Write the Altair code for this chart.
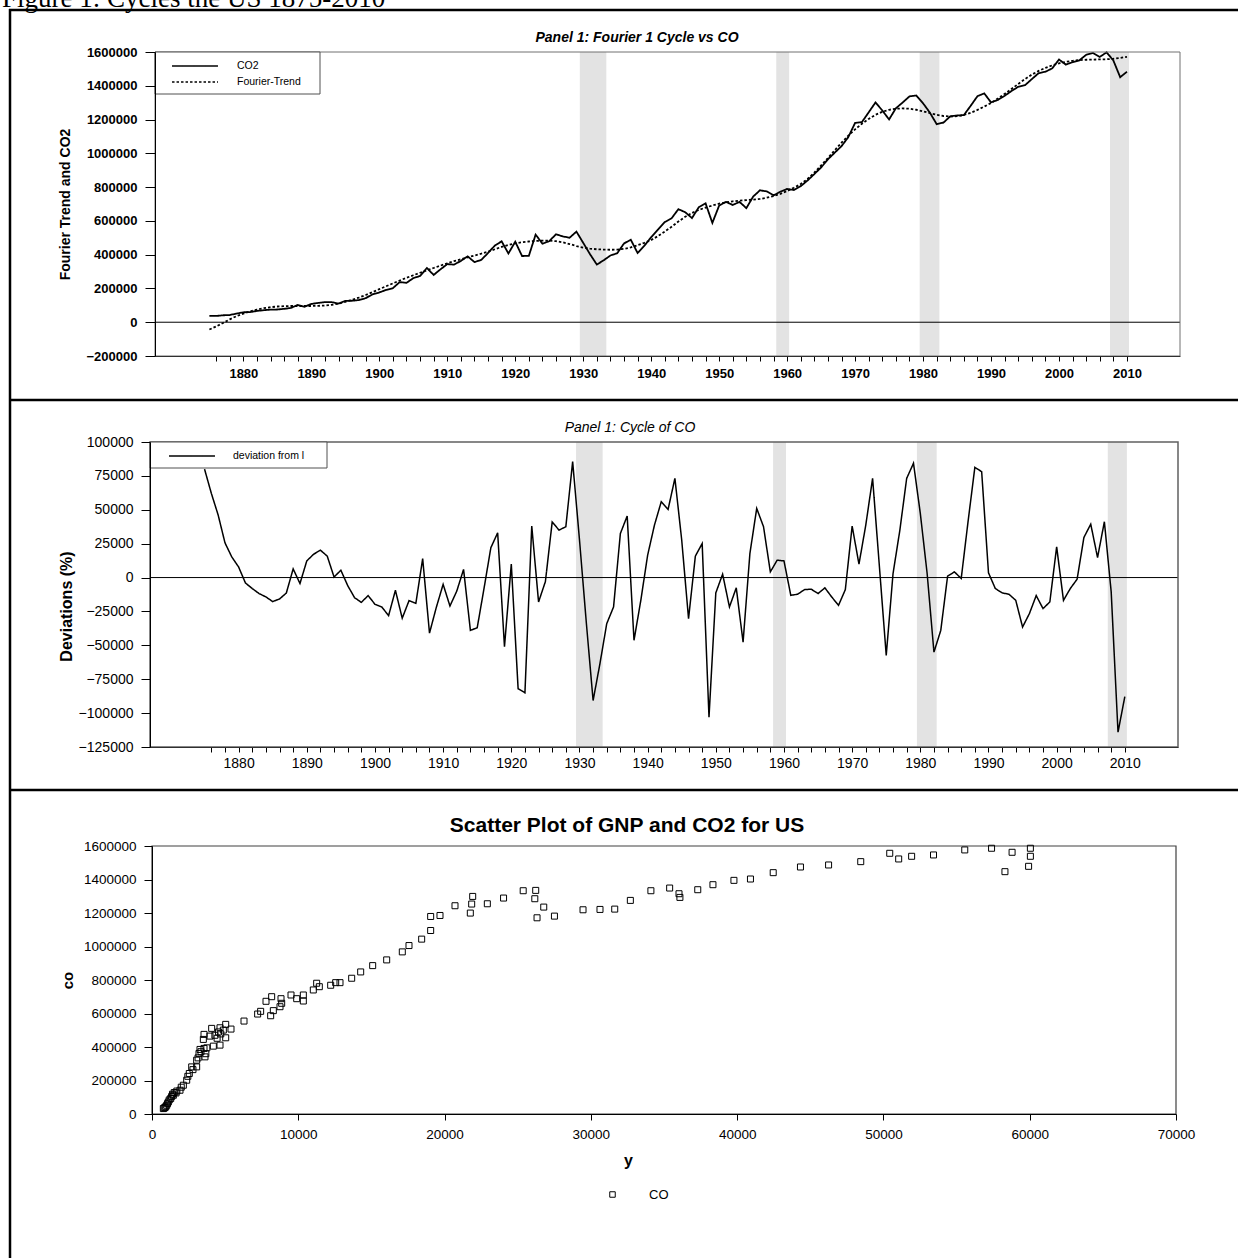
import altair as alt
import pandas as pd

# ---------------- data ----------------
years = list(range(1875, 2011))

co2 = [
    37000, 37100, 41100, 42600, 51200,
    58800, 60000, 66900, 71200, 74700, 75300, 79200, 84600, 102400, 91600,
    108300, 114200, 119200, 118800, 110400, 126400, 127100, 131200, 142700, 164700,
    176300, 191300, 201900, 237600, 233000, 261000, 274000, 321000, 280000, 313000,
    344000, 341000, 363000, 390000, 356000, 369000, 410000, 454000, 479000, 407000,
    477000, 392000, 393000, 519000, 465000, 480000, 521000, 508000, 500500, 536500,
    470000, 403000, 341300, 366400, 395000, 408300, 466500, 488400, 409700, 453200,
    503500, 548700, 593000, 615300, 669200, 651600, 616700, 680800, 704100, 588000,
    690700, 712500, 694300, 712400, 675400, 743700, 781000, 774500, 751200, 772800,
    789300, 782900, 805700, 839100, 877400, 916200, 964400, 1003700, 1042500, 1096100,
    1180000, 1184900, 1242700, 1301200, 1254000, 1200600, 1267000, 1301000, 1337200, 1342300,
    1296300, 1241000, 1173000, 1182000, 1219000, 1224200, 1226300, 1281200, 1338300, 1355100,
    1301500, 1315900, 1340700, 1368700, 1394200, 1403500, 1439400, 1474700, 1483100, 1503000,
    1555700, 1525200, 1539900, 1550800, 1583600, 1594400, 1570800, 1598200, 1549400, 1450900,
    1483200,
]

fourier_trend = [
    -43000, -25000, -5000, 17000, 36000,
    51000, 64000, 75000, 83000, 89000, 93000, 95000, 96000, 96000, 96000,
    96000, 97000, 99000, 103000, 110000, 121000, 133000, 146000, 161000, 178000,
    196000, 213000, 230000, 247000, 263000, 278000, 293000, 307000, 321000, 335000,
    349000, 362000, 373000, 384000, 395000, 406000, 418000, 432000, 446000, 458000,
    467000, 474000, 478000, 481000, 483000, 483000, 480000, 473000, 463000, 451000,
    442000, 436000, 432000, 430000, 429000, 430000, 434000, 443000, 456000, 470000,
    487000, 510000, 537000, 565000, 596000, 624000, 647000, 665000, 679000, 691000,
    702000, 710000, 716000, 720000, 723000, 726000, 730000, 737000, 747000, 760000,
    777000, 796000, 818000, 848000, 886000, 928000, 972000, 1018000, 1063000, 1105000,
    1142000, 1175000, 1204000, 1228000, 1246000, 1258000, 1264000, 1266000, 1264000, 1258000,
    1249000, 1238000, 1228000, 1221000, 1218000, 1220000, 1227000, 1240000, 1257000, 1277000,
    1298000, 1324000, 1352000, 1381000, 1411000, 1440000, 1466000, 1488000, 1506000, 1521000,
    1533000, 1542000, 1548000, 1552000, 1554000, 1555000, 1556000, 1557000, 1560000, 1565000,
    1571000,
]

deviation = [
    80000, 62100, 46100, 25600, 15200,
    7800, -4000, -8100, -11800, -14300, -17700, -15800, -11400, 6400, -4400,
    12300, 17200, 20200, 15800, 400, 5400, -5900, -14800, -18300, -13300,
    -19700, -21700, -28100, -9400, -30000, -17000, -19000, 14000, -41000, -22000,
    -5000, -21000, -10000, 6000, -39000, -37000, -8000, 22000, 33000, -51000,
    10000, -82000, -85000, 38000, -18000, -3000, 41000, 35000, 37500, 85500,
    28000, -33000, -90700, -63600, -34000, -21700, 32500, 45400, -46300, -16800,
    16500, 38700, 56000, 50300, 73200, 27600, -30300, 15800, 25100, -103000,
    -11300, 2500, -21700, -7600, -47600, 17700, 51000, 37500, 4200, 12800,
    12300, -13100, -12300, -8900, -8600, -11800, -7600, -14300, -20500, -8900,
    38000, 9900, 38700, 73200, 8000, -57400, 3000, 35000, 73200, 84300,
    47300, 3000, -55000, -39000, 1000, 4200, -700, 41200, 81300, 78100,
    3500, -8100, -11300, -12300, -16800, -36500, -26600, -13300, -22900, -18000,
    22700, -16800, -8100, -1200, 29600, 39400, 14800, 41200, -10600, -114100,
    -87800,
]

recession_start = [1929.5, 1958.4, 1979.5, 2007.5]
recession_end = [1933.4, 1960.3, 1982.4, 2010.3]

# GNP (y) against CO2 (co) for the scatter panel
gnp = [
    775, 830, 889, 940, 1003, 1060, 1117, 1180, 1276, 1340, 1400, 1458, 1520, 1640, 1700,
    1914, 2000, 2143, 2372, 2450, 2550, 2714, 2800, 3053, 3053, 3150, 3213, 3281, 3350,
    3509, 3555, 3555, 3623, 3680, 3750, 3965, 4079, 4193, 4300, 4450, 4550, 4649, 4649,
    4700, 4877, 5038, 5038, 5400, 6290, 7222, 7427, 7793, 8112, 8180, 8294, 8750, 8819,
    8865, 9502, 9891, 10345, 10345, 11027, 11256, 11438, 12214, 12556, 12851, 13650,
    14265, 15086, 16043, 17111, 17568, 18434, 19049, 19049, 19687, 20712, 21760, 21853,
    21922, 22923,
    24032, 25375, 26230, 26168, 26779, 26321, 27511, 29465, 30624, 31632, 32700, 34104,
    35386, 36026, 36088, 37308, 38346, 39780, 40910, 42466, 44328, 46251, 48449, 50432,
    51043, 51928, 53423, 55560, 57391, 58795, 58307, 60046, 60046, 59924,
]
co = [
    32300, 36000, 38300, 44000, 52100, 62000, 71800, 84000, 92200, 104000, 118000, 111900,
    128000, 125700, 137000, 141900, 160000, 171800, 201700, 225000, 241800, 281300, 265000,
    281300, 321400, 335000, 361600, 385500, 372000, 445300, 391500, 475300, 341200, 360000,
    395000, 465100, 511200, 405200, 470000, 452000, 490000, 411200, 514800, 478000, 501000,
    455000, 535100, 507000, 554900, 596800, 612900, 672800, 586600, 700300, 617100, 640500,
    688400, 660900, 710500, 688400, 674600, 710500, 740500, 780600, 760000, 768600, 784200,
    784200, 810500, 848200, 885900, 920000, 967900, 1005600, 1044000, 1095500, 1179200,
    1185200, 1243300, 1199600, 1253500, 1299000, 1255200,
    1289200, 1333000, 1335000, 1285200, 1235300, 1171400, 1181400, 1219300, 1221300,
    1223300, 1275200, 1333000, 1349000, 1315100, 1293100, 1339000, 1369000, 1394900,
    1402900, 1440800, 1474700, 1486700, 1506600, 1556500, 1522600, 1538600, 1546600,
    1576500, 1586500, 1562500, 1446800, 1586500, 1538600, 1478700,
]

line_series = ["CO2", "Fourier-Trend"]

# ---------------- layout ----------------
W, H = 1238, 1258
SANS = "Liberation Sans"
SERIF = "Liberation Serif"

P1 = dict(left=155, right=1180, top=52, bottom=356)
P2 = dict(left=150, right=1178, top=442, bottom=747)
P3 = dict(left=152, right=1176, top=846, bottom=1114)
YEAR_DOMAIN = [1867, 2017.8]

# a long horizontal legend stroke drawn inside a small symbol box
LONG_STROKE = "M-4,0H4"
STROKE_SIZE = 132


def xscale(p, domain):
    return alt.Scale(domain=domain, range=[p["left"], p["right"]], nice=False, zero=False)


def yscale(p, domain):
    return alt.Scale(domain=domain, range=[p["bottom"], p["top"]], nice=False, zero=False)


def year_axis(p, bold, size, pad):
    return alt.Axis(
        orient="bottom", offset=p["bottom"] - H, zindex=1,
        values=list(range(1876, 2011, 2)),
        labelExpr="datum.value % 10 == 0 ? format(datum.value, 'd') : ''",
        tickSize=5, tickColor="black", domainColor="#303030",
        labelFont=SANS, labelFontSize=size, labelFontWeight="bold" if bold else "normal",
        labelColor="black", labelPadding=pad, labelOverlap=False, labelFlush=False,
        title=None, grid=False,
    )


x1 = xscale(P1, YEAR_DOMAIN)
y1 = yscale(P1, [-200000, 1600000])
x2 = xscale(P2, YEAR_DOMAIN)
y2 = yscale(P2, [-125000, 100000])
x3 = xscale(P3, [0, 70000])
y3 = yscale(P3, [0, 1600000])

n = len(years)
lines_df = pd.DataFrame({
    "year": years + years,
    "value": co2 + fourier_trend,
    "series": [line_series[0]] * n + [line_series[1]] * n,
})
dev_df = pd.DataFrame({"year": years, "deviation": deviation, "series": "deviation from l"})
rec_df = pd.DataFrame({"start": recession_start, "end": recession_end})
zero_df = pd.DataFrame({"v": [0]})
sc_df = pd.DataFrame({"gnp": gnp, "co": co, "series": "CO"})
one = pd.DataFrame({"k": [0]})


def box(p_l, p_r, p_t, p_b, fill="white", stroke="#505050", sw=1.0, fill_opacity=1.0):
    return alt.Chart(one).mark_rect(
        fill=fill, fillOpacity=fill_opacity, stroke=stroke, strokeWidth=sw
    ).encode(x=alt.value(p_l), x2=alt.value(p_r), y=alt.value(p_t), y2=alt.value(p_b))


def label(text, x, y, size, weight="normal", style="normal", font=SANS, align="center",
          baseline="middle", angle=0):
    return alt.Chart(pd.DataFrame({"t": [text]})).mark_text(
        font=font, fontSize=size, fontWeight=weight, fontStyle=style, align=align,
        baseline=baseline, angle=angle, color="black",
    ).encode(x=alt.value(x), y=alt.value(y), text="t:N")


def hline(y, x_a=9, x_b=W, sw=2.5, color="black"):
    return alt.Chart(one).mark_rule(color=color, strokeWidth=sw).encode(
        x=alt.value(x_a), x2=alt.value(x_b), y=alt.value(y))


# ---------------- panel 1: CO2 and Fourier trend ----------------
p1_bands = alt.Chart(rec_df).mark_rect(color="#e3e3e3").encode(
    x=alt.X("start:Q", scale=x1, axis=None), x2="end:Q",
    y=alt.value(P1["top"]), y2=alt.value(P1["bottom"]),
)
p1_zero = alt.Chart(zero_df).mark_rule(color="black", strokeWidth=1).encode(
    y=alt.Y("v:Q", scale=y1, axis=None), x=alt.value(P1["left"]), x2=alt.value(P1["right"]),
)
p1_lines = alt.Chart(lines_df).mark_line(color="black", strokeWidth=1.8).encode(
    x=alt.X("year:Q", scale=x1, axis=year_axis(P1, True, 13, 6)),
    y=alt.Y("value:Q", scale=y1, axis=alt.Axis(
        orient="left", offset=-P1["left"], zindex=1,
        values=list(range(-200000, 1600001, 200000)), format="d",
        tickSize=10, tickColor="black", domainColor="black", labelPadding=8,
        labelFont=SANS, labelFontSize=13, labelFontWeight="bold", labelColor="black",
        title="Fourier Trend and CO2", titleFont=SANS, titleFontSize=14, titleFontWeight="bold",
        titleX=65 - P1["left"], titleY=204, titleAngle=-90, titleAlign="center",
        titleBaseline="middle", titleColor="black", grid=False,
    )),
    strokeDash=alt.StrokeDash("series:N", scale=alt.Scale(
        domain=line_series, range=[[1, 0], [2.5, 2]]), legend=alt.Legend(
        title=None, orient="none", legendX=188, legendY=59, symbolType=LONG_STROKE,
        symbolSize=STROKE_SIZE, symbolStrokeWidth=1.6, symbolStrokeColor="black",
        labelFont=SANS, labelFontSize=10.5, labelColor="black", labelOffset=35,
        rowPadding=3, padding=0,
    )),
)
p1_frame = box(P1["left"], P1["right"], P1["top"], P1["bottom"], fill="white",
               stroke="#707070", fill_opacity=0)
p1_legend_box = box(P1["left"], 320, P1["top"], 94)

# ---------------- panel 2: cycle ----------------
p2_bands = alt.Chart(rec_df).mark_rect(color="#e3e3e3").encode(
    x=alt.X("start:Q", scale=x2, axis=None), x2="end:Q",
    y=alt.value(P2["top"]), y2=alt.value(P2["bottom"]),
)
p2_zero = alt.Chart(zero_df).mark_rule(color="black", strokeWidth=1).encode(
    y=alt.Y("v:Q", scale=y2, axis=None), x=alt.value(P2["left"]), x2=alt.value(P2["right"]),
)
p2_line = alt.Chart(dev_df).mark_line(color="black", strokeWidth=1.5).encode(
    x=alt.X("year:Q", scale=x2, axis=year_axis(P2, False, 14, 4)),
    y=alt.Y("deviation:Q", scale=y2, axis=alt.Axis(
        orient="left", offset=-P2["left"], zindex=1,
        values=list(range(-125000, 100001, 25000)), format="d",
        tickSize=9, tickColor="black", domainColor="black", labelPadding=8,
        labelFont=SANS, labelFontSize=14, labelColor="black",
        title="Deviations (%)", titleFont=SANS, titleFontSize=16, titleFontWeight="bold",
        titleX=66 - P2["left"], titleY=606, titleAngle=-90, titleAlign="center",
        titleBaseline="middle", titleColor="black", grid=False,
    )),
    strokeDash=alt.StrokeDash("series:N", scale=alt.Scale(
        domain=["deviation from l"], range=[[1, 0]]), legend=alt.Legend(
        title=None, orient="none", legendX=185, legendY=449, symbolType=LONG_STROKE,
        symbolSize=STROKE_SIZE, symbolStrokeWidth=1.6, symbolStrokeColor="black",
        labelFont=SANS, labelFontSize=10.5, labelColor="black", labelOffset=34, padding=0,
    )),
)
p2_frame = box(P2["left"], P2["right"], P2["top"], P2["bottom"], fill="white",
               stroke="#606060", sw=1.5, fill_opacity=0)
p2_legend_box = box(P2["left"], 327, P2["top"], 468)

# ---------------- panel 3: scatter ----------------
p3_frame = box(P3["left"], P3["right"], P3["top"], P3["bottom"], fill="white",
               stroke="#404040", sw=1.2, fill_opacity=0)
p3_points = alt.Chart(sc_df).mark_point(
    shape="square", filled=False, size=36, strokeWidth=1, color="black", opacity=1
).encode(
    x=alt.X("gnp:Q", scale=x3, axis=alt.Axis(
        orient="bottom", offset=P3["bottom"] - H, zindex=1,
        values=list(range(0, 70001, 10000)), format="d",
        tickSize=6, tickColor="black", domainColor="black", labelPadding=7,
        labelFont=SANS, labelFontSize=13.5, labelColor="black", labelFlush=False,
        title="y", titleFont=SANS, titleFontSize=16, titleFontWeight="bold",
        titleX=628, titleY=46, titleAlign="center", titleBaseline="middle",
        titleColor="black", grid=False,
    )),
    y=alt.Y("co:Q", scale=y3, axis=alt.Axis(
        orient="left", offset=-P3["left"], zindex=1,
        values=list(range(0, 1600001, 200000)), format="d",
        tickSize=8, tickColor="black", domainColor="black", labelPadding=8,
        labelFont=SANS, labelFontSize=13.5, labelColor="black",
        title="co", titleFont=SANS, titleFontSize=15, titleFontWeight="bold",
        titleX=67 - P3["left"], titleY=980, titleAngle=-90, titleAlign="center",
        titleBaseline="middle", titleColor="black", grid=False,
    )),
    shape=alt.Shape("series:N", scale=alt.Scale(domain=["CO"], range=["square"]),
                    legend=alt.Legend(
        title=None, orient="none", legendX=606, legendY=1188, symbolSize=30,
        symbolStrokeColor="black", symbolStrokeWidth=1, labelFont=SANS,
        labelFontSize=13, labelColor="black", labelOffset=30, padding=0,
    )),
)
p3_legend_box = box(577, 679, 1180, 1207, stroke="white", sw=0)

# ---------------- figure frame and titles ----------------
frame = [
    hline(10),
    hline(400),
    hline(790),
    alt.Chart(one).mark_rule(color="black", strokeWidth=2.5).encode(
        x=alt.value(10), y=alt.value(9), y2=alt.value(H)),
]
texts = [
    label("Figure 1: Cycles the US 1875-2010", 2, 7, 27, font=SERIF, align="left",
          baseline="alphabetic"),
    label("Panel 1: Fourier 1 Cycle vs CO", 637, 38, 14, weight="bold", style="italic"),
    label("Panel 1:  Cycle of CO", 630, 428, 14, style="italic"),
    label("Scatter Plot of GNP and CO2 for US", 627, 826, 21, weight="bold"),
]

layers = [
    p1_bands, p1_zero, p1_lines, p1_frame, p1_legend_box,
    p2_bands, p2_zero, p2_line, p2_frame, p2_legend_box,
    p3_frame, p3_points, p3_legend_box,
] + frame + texts

chart = alt.layer(*layers).resolve_scale(
    x="independent", y="independent", strokeDash="independent", shape="independent"
).resolve_axis(
    x="independent", y="independent"
).resolve_legend(
    strokeDash="independent", shape="independent"
).properties(
    width=W, height=H, padding=0, background="white",
    autosize=alt.AutoSizeParams(type="none"),
).configure_view(strokeWidth=0).configure_axis(grid=False)

chart.save("out.html", embed_options={"renderer": "svg", "actions": False})
